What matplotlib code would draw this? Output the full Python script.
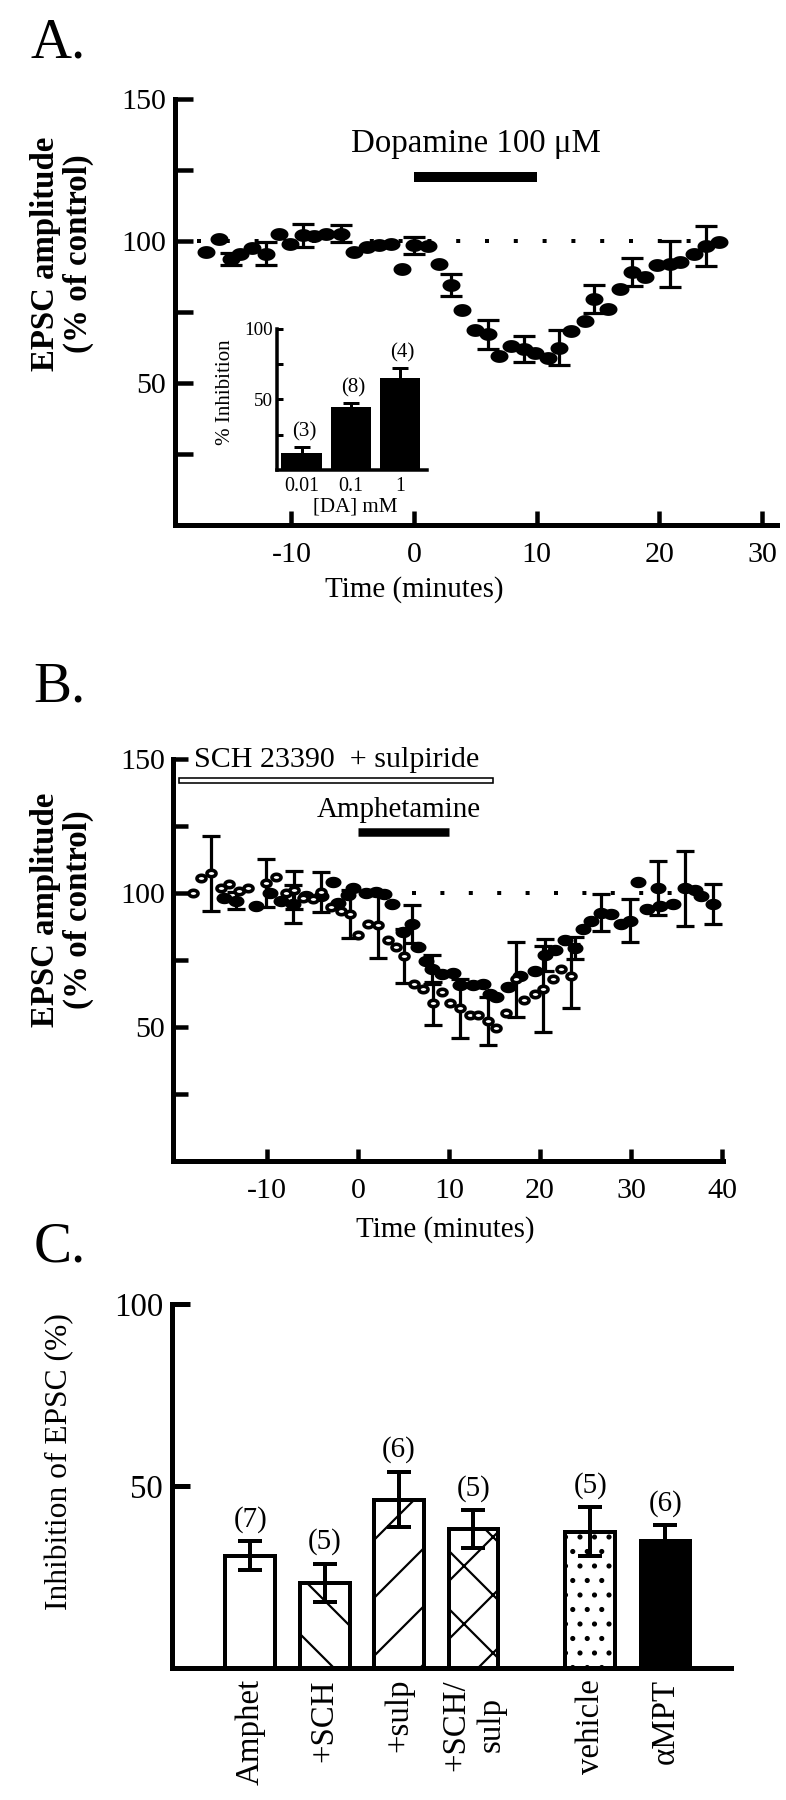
import matplotlib
matplotlib.use('Agg')
import matplotlib.pyplot as plt
import numpy as np
from matplotlib.path import Path

# Output is 786x1800 px. A high dpi makes the hatch tiles (1 inch) large,
# so the sparse diagonal hatching of panel C comes out right.
DPI = 348
W, H = 786, 1800


def pt(px):
    # size in output pixels -> points
    return px * 72.0 / DPI


plt.rcParams['font.family'] = ['Liberation Serif', 'DejaVu Serif']
plt.rcParams['hatch.linewidth'] = pt(2.2)
plt.rcParams['axes.unicode_minus'] = False

# ---- Panel A: dopamine time course ----
a_time = [-17.0, -15.9, -14.9, -14.2, -13.2, -12.1, -11.0, -10.1, -9.1, -8.2,
          -7.2, -6.0, -4.9, -3.8, -2.9, -1.9, -1.0, 0.0, 1.1, 2.0,
          3.0, 3.9, 5.0, 6.0, 6.9, 7.9, 9.0, 9.9, 10.9, 11.8,
          12.8, 13.9, 14.7, 15.8, 16.8, 17.8, 18.8, 19.8, 20.9, 21.7,
          22.8, 23.8, 24.9]
a_mean = [96.3, 100.8, 93.7, 95.5, 97.5, 95.5, 102.6, 98.8, 102.0, 101.8,
          102.6, 102.6, 96.1, 97.9, 98.5, 99.1, 90.2, 98.5, 98.2, 92.0,
          84.5, 75.8, 68.7, 67.1, 59.5, 63.0, 62.0, 60.6, 58.9, 62.5,
          68.4, 71.7, 79.6, 76.0, 83.2, 89.1, 87.3, 91.4, 91.9, 92.5,
          95.5, 98.3, 99.6]
a_sem = [0, 0, 2, 0, 0, 4, 0, 0, 4, 0,
         0, 3, 0, 0, 0, 0, 0, 3, 0, 0,
         4, 0, 0, 5, 0, 0, 4.5, 0, 0, 6,
         0, 0, 5, 0, 0, 5, 0, 0, 8, 0,
         0, 7, 0]
a_xticks = [-10, 0, 10, 20, 28.4]
a_xticklabels = ['-10', '0', '10', '20', '30']
dopa_on = [0, 10]

# inset: concentration response
inset_conc = ['0.01', '0.1', '1']
inset_inhib = [12.0, 44.4, 65.2]
inset_sem = [4.0, 3.0, 7.0]
inset_n = ['(3)', '(8)', '(4)']

# ---- Panel B: amphetamine, control (filled) and with SCH 23390 + sulpiride (open) ----
bf_time = [-14.7, -13.4, -11.2, -9.7, -8.4, -7.1, -5.7, -4.0, -2.7, -2.2,
           -1.1, -0.5, 0.9, 2.0, 2.9, 3.8, 5.0, 5.9, 6.6, 7.5,
           8.1, 9.2, 10.4, 11.2, 12.6, 13.7, 14.5, 15.2, 16.5, 17.8,
           19.4, 20.5, 21.6, 22.7, 23.8, 24.7, 25.6, 26.7, 27.8, 28.9,
           29.9, 30.8, 31.7, 33.0, 33.2, 34.6, 35.9, 37.0, 37.7, 39.0]
bf_mean = [98.2, 97.2, 95.2, 100.0, 97.0, 95.8, 98.8, 98.8, 104.2, 96.4,
           99.4, 101.8, 100.0, 100.5, 99.6, 95.8, 85.5, 88.5, 80.0, 74.6,
           71.5, 69.7, 70.3, 65.5, 65.5, 66.1, 62.5, 61.3, 64.9, 69.1,
           71.0, 77.0, 78.8, 82.4, 79.4, 86.7, 89.7, 92.7, 92.1, 88.5,
           89.7, 104.2, 93.9, 101.8, 95.2, 95.8, 101.8, 101.2, 98.8, 95.8]
bf_sem = [0, 3, 0, 0, 0, 7, 0, 0, 0, 0,
          0, 0, 0, 0, 0, 0, 0, 7, 0, 0,
          5.5, 0, 0, 0, 0, 0, 0, 0, 0, 0,
          0, 6, 0, 0, 4, 0, 0, 7, 0, 0,
          8, 0, 0, 10, 0, 0, 14, 0, 0, 7.5]

bo_time = [-18.1, -17.2, -16.1, -15.0, -14.1, -13.0, -12.1, -10.1, -9.0, -7.9,
           -7.0, -6.0, -4.9, -4.0, -2.9, -1.8, -0.9, 0.0, 1.1, 2.2,
           3.3, 4.2, 5.1, 6.2, 7.1, 8.2, 9.2, 10.1, 11.2, 12.3,
           13.2, 14.3, 15.2, 16.3, 17.4, 18.3, 19.4, 20.3, 21.4, 22.3,
           23.4]
bo_mean = [100.0, 105.7, 107.3, 101.8, 103.3, 100.6, 101.8, 103.6, 106.0, 100.0,
           101.2, 98.2, 97.6, 100.4, 94.6, 93.3, 92.1, 84.3, 88.5, 87.9,
           82.4, 80.0, 76.4, 66.1, 64.3, 58.8, 63.0, 58.8, 57.0, 54.6,
           54.6, 52.2, 49.8, 55.2, 67.9, 60.0, 62.5, 64.3, 67.9, 71.5,
           69.1]
bo_sem = [0, 0, 14, 0, 0, 0, 0, 9, 0, 0,
          7, 0, 0, 7.5, 0, 0, 9, 0, 0, 12,
          0, 0, 10, 0, 0, 8, 0, 0, 11, 0,
          0, 9, 0, 0, 14, 0, 0, 16, 0, 0,
          12]
antag_on = [-19.6, 14.8]
amph_on = [0, 10]

# ---- Panel C: summary bars ----
c_groups = ['Amphet', '+SCH', '+sulp', '+SCH/\nsulp', 'vehicle', '\u03b1MPT']
c_pos = [0, 1, 2, 3, 4.57, 5.58]
c_mean = [30.8, 23.4, 46.2, 38.1, 37.4, 34.9]
c_sem = [4.0, 5.2, 7.6, 5.2, 6.7, 4.3]
c_n = ['(7)', '(5)', '(6)', '(5)', '(5)', '(6)']
c_hatch = ['', '\\\\', '//', 'xx', '....', '']
c_face = ['white', 'white', 'white', 'white', 'white', 'black']

# ellipse marker (wider than tall)
th = np.linspace(0, 2 * np.pi, 41)
ELLIPSE = Path(np.column_stack([1.4 * np.cos(th), np.sin(th)]), closed=True)

fig = plt.figure(figsize=(W / DPI, H / DPI), dpi=DPI)
fig.patch.set_facecolor('white')


def px_axes(l, t, r, b):
    return fig.add_axes([l / W, 1 - b / H, (r - l) / W, (b - t) / H])


def style(ax, lw):
    for s in ['top', 'right']:
        ax.spines[s].set_visible(False)
    for s in ['left', 'bottom']:
        ax.spines[s].set_linewidth(pt(lw))
    ax.patch.set_visible(False)


def errbars(ax, x, y, e, lw, cap, z=2):
    x, y, e = np.asarray(x), np.asarray(y), np.asarray(e)
    m = e > 0
    ax.errorbar(x[m], y[m], yerr=e[m], fmt='none', ecolor='black',
                elinewidth=pt(lw), capsize=pt(cap), capthick=pt(lw), zorder=z)


def fig_text(x, y, s, **kw):
    fig.text(x / W, 1 - y / H, s, **kw)


# ================= A =================
axA = px_axes(175, 99, 777, 525)
style(axA, 5)
axA.set_xlim(-19.5, 29.6)
axA.set_ylim(0, 150)
axA.set_yticks([50, 100, 150])
axA.set_yticks([25, 75, 125], minor=True)
axA.set_xticks(a_xticks)
axA.set_xticklabels(a_xticklabels)
axA.tick_params(axis='y', which='both', direction='in', length=pt(18), width=pt(4.5),
                labelsize=pt(30), pad=pt(9))
axA.tick_params(axis='x', direction='in', length=pt(14), width=pt(4.5),
                labelsize=pt(30), pad=pt(17))

axA.plot([-17.7, 25], [100, 100], color='black', lw=pt(4),
         ls=(0, (1, 6.2)), dash_capstyle='butt', zorder=1)
errbars(axA, a_time, a_mean, a_sem, 3.2, 11)
axA.plot(a_time, a_mean, ls='none', marker=ELLIPSE, ms=pt(18), mfc='black',
         mec='black', mew=0, zorder=3)
axA.plot(dopa_on, [122.6, 122.6], color='black', lw=pt(10), solid_capstyle='butt')
axA.text(5.05, 131.2, 'Dopamine 100 \u03bcM', ha='center', va='baseline', fontsize=pt(33))

# inset
axI = px_axes(277, 329, 427, 470)
style(axI, 3.5)
axI.set_xlim(-0.5, 2.55)
axI.set_ylim(0, 100)
axI.bar(range(3), inset_inhib, width=0.82, color='black', zorder=2)
errbars(axI, range(3), inset_inhib, inset_sem, 3, 8)
for i in range(3):
    axI.text(i + 0.05, inset_inhib[i] + inset_sem[i] + 4, inset_n[i], ha='center',
             va='bottom', fontsize=pt(21))
axI.set_yticks([50, 100])
axI.set_yticks([25, 75], minor=True)
axI.tick_params(axis='y', which='both', direction='in', length=pt(6), width=pt(3),
                labelsize=pt(19), pad=pt(4))
axI.set_xticks(range(3))
axI.set_xticklabels(inset_conc)
axI.tick_params(axis='x', length=0, labelsize=pt(20), pad=pt(7))
fig_text(355, 507, '[DA] mM', ha='center', va='center', fontsize=pt(21))
fig_text(225, 392, '% Inhibition', rotation=90, ha='center', va='center', fontsize=pt(21))

fig_text(30, 58, 'A.', ha='left', va='baseline', fontsize=pt(57))
fig_text(62, 254, 'EPSC amplitude\n(% of control)', rotation=90, ha='center',
         va='center', multialignment='center', fontweight='bold', fontsize=pt(33),
         linespacing=1.1)
fig_text(414, 590, 'Time (minutes)', ha='center', va='center', fontsize=pt(29))

# ================= B =================
axB = px_axes(173, 759, 723, 1161)
style(axB, 5)
axB.set_xlim(-20.3, 40.1)
axB.set_ylim(0, 150)
axB.set_yticks([50, 100, 150])
axB.set_yticks([25, 75, 125], minor=True)
axB.set_xticks([-10, 0, 10, 20, 30, 40])
axB.set_xticklabels(['-10', '0', '10', '20', '30', '40'])
axB.tick_params(axis='y', which='both', direction='in', length=pt(15), width=pt(4.5),
                labelsize=pt(30), pad=pt(8))
axB.tick_params(axis='x', direction='in', length=pt(12), width=pt(4.5),
                labelsize=pt(30), pad=pt(17))

axB.plot([6, 36], [100, 100], color='black', lw=pt(4),
         ls=(0, (1, 6.1)), dash_capstyle='butt', zorder=1)
errbars(axB, bf_time, bf_mean, bf_sem, 3.2, 9)
errbars(axB, bo_time, bo_mean, bo_sem, 3.2, 9)
axB.plot(bf_time, bf_mean, ls='none', marker=ELLIPSE, ms=pt(16), mfc='black',
         mec='black', mew=0, zorder=3)
axB.plot(bo_time, bo_mean, ls='none', marker=ELLIPSE, ms=pt(9), mfc='white',
         mec='black', mew=pt(3.6), zorder=4)
axB.barh(142.0, antag_on[1] - antag_on[0], left=antag_on[0], height=1.9,
         color='white', edgecolor='black', linewidth=pt(1.6))
axB.plot(amph_on, [122.7, 122.7], color='black', lw=pt(8.5), solid_capstyle='butt')
axB.text(-2.3, 147.2, 'SCH 23390  + sulpiride', ha='center', va='baseline',
         fontsize=pt(30))
axB.text(4.5, 128.5, 'Amphetamine', ha='center', va='baseline', fontsize=pt(29))

fig_text(33, 702, 'B.', ha='left', va='baseline', fontsize=pt(57))
fig_text(62, 910, 'EPSC amplitude\n(% of control)', rotation=90, ha='center',
         va='center', multialignment='center', fontweight='bold', fontsize=pt(33),
         linespacing=1.1)
fig_text(445, 1230, 'Time (minutes)', ha='center', va='center', fontsize=pt(29))

# ================= C =================
axC = px_axes(172, 1304, 731, 1668)
style(axC, 5)
axC.set_xlim(-1.05, 6.46)
axC.set_ylim(0, 100)
bars = axC.bar(c_pos, c_mean, width=0.67, color=c_face, edgecolor='black',
               linewidth=pt(4), zorder=2)
for b, h in zip(bars, c_hatch):
    b.set_hatch(h)
errbars(axC, c_pos, c_mean, c_sem, 4, 12, z=3)
for x, m, e, n in zip(c_pos, c_mean, c_sem, c_n):
    axC.text(x, m + e + 2.4, n, ha='center', va='bottom', fontsize=pt(29))
axC.set_yticks([50, 100])
axC.tick_params(axis='y', direction='in', length=pt(18), width=pt(5),
                labelsize=pt(33), pad=pt(9))
axC.set_xticks(c_pos)
axC.set_xticklabels(c_groups, rotation=90, multialignment='center')
axC.tick_params(axis='x', length=0, labelsize=pt(33), pad=pt(11))

fig_text(34, 1262, 'C.', ha='left', va='baseline', fontsize=pt(57))
fig_text(60, 1462, 'Inhibition of EPSC (%)', rotation=90, ha='center',
         va='center', fontsize=pt(31.5))

fig.savefig('out.png', dpi=DPI, facecolor='white')
plt.close(fig)
print('Done')
